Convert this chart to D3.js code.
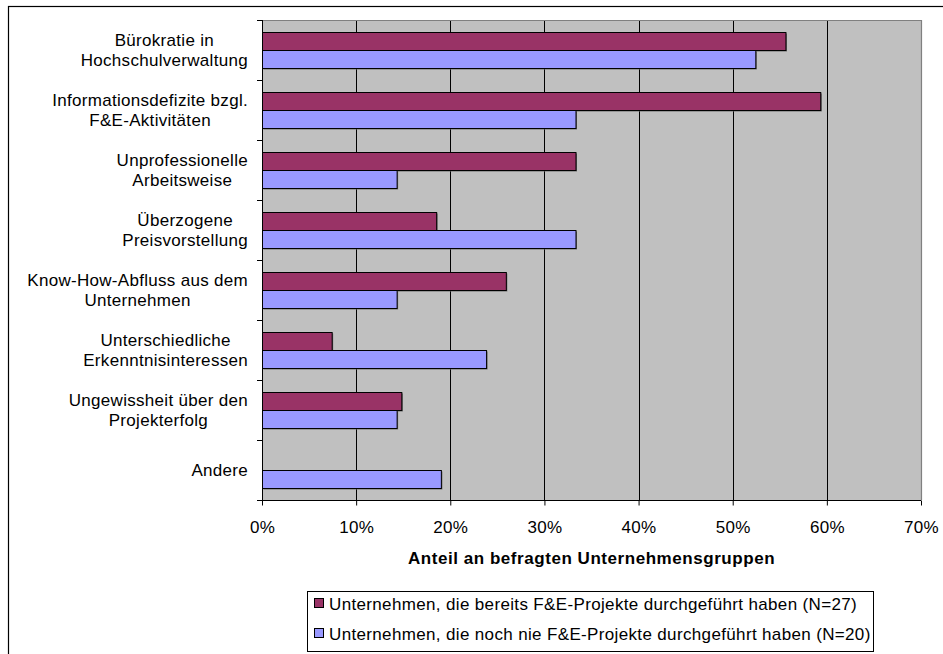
<!DOCTYPE html>
<html>
<head>
<meta charset="utf-8">
<script src="https://cdn.jsdelivr.net/npm/d3@7"></script>
<style>
  body { margin: 0; background: #fff; }
  svg text { font-family: "Liberation Sans", Arial, sans-serif; fill: #000; }
</style>
</head>
<body>
<svg id="chart" width="943" height="654"></svg>
<script>
///////////////////////////////////////////////////////////
// Data

const categoryLines = [
  ["Bürokratie in", "Hochschulverwaltung"],
  ["Informationsdefizite bzgl.", "F&E-Aktivitäten"],
  ["Unprofessionelle", "Arbeitsweise"],
  ["Überzogene", "Preisvorstellung"],
  ["Know-How-Abfluss aus dem", "Unternehmen"],
  ["Unterschiedliche", "Erkenntnisinteressen"],
  ["Ungewissheit über den", "Projekterfolg"],
  ["Andere"]
];
const seriesNames = [
  "Unternehmen, die bereits F&E-Projekte durchgeführt haben (N=27)",
  "Unternehmen, die noch nie F&E-Projekte durchgeführt haben (N=20)"
];
const valuesDone = [55.6, 59.3, 33.3, 18.5, 25.9, 7.4, 14.8, 0];
const valuesNever = [52.4, 33.3, 14.3, 33.3, 14.3, 23.8, 14.3, 19.0];
const seriesColors = ["#993366", "#9999FF"];
const xTicks = [0, 10, 20, 30, 40, 50, 60, 70];
const xTitle = "Anteil an befragten Unternehmensgruppen";

///////////////////////////////////////////////////////////
// Layout

const plot = { left: 262, right: 921, top: 20, bottom: 500 };
const svg = d3.select("#chart");

// outer frame (runs off the right and bottom edge)
svg.append("rect")
  .attr("x", 8.5).attr("y", 6.5)
  .attr("width", 1000).attr("height", 1000)
  .attr("fill", "none").attr("stroke", "#000").attr("stroke-width", 1.2);

const x = d3.scaleLinear().domain([0, 70]).range([plot.left, plot.right]);
const y0 = d3.scaleBand()
  .domain(d3.range(categoryLines.length))
  .range([plot.top, plot.bottom])
  .padding(0);
const y1 = d3.scaleBand()
  .domain([0, 1])
  .range([0, y0.bandwidth()])
  .paddingInner(0)
  .paddingOuter(0.667);

// plot background
svg.append("rect")
  .attr("x", plot.left).attr("y", plot.top)
  .attr("width", plot.right - plot.left).attr("height", plot.bottom - plot.top)
  .attr("fill", "#C0C0C0");

// gridlines
svg.selectAll(".grid")
  .data(xTicks.filter(d => d > 0 && d < 70))
  .enter().append("line")
  .attr("x1", d => Math.round(x(d)) + 0.5).attr("x2", d => Math.round(x(d)) + 0.5)
  .attr("y1", plot.top).attr("y2", plot.bottom)
  .attr("stroke", "#000").attr("stroke-width", 1);

// plot border top/right
svg.append("path")
  .attr("d", `M${plot.left},${plot.top + 0.5}H${plot.right + 0.5}V${plot.bottom}`)
  .attr("fill", "none").attr("stroke", "#808080").attr("stroke-width", 1.2);

///////////////////////////////////////////////////////////
// Bars

const rows = categoryLines.map((c, i) => ({ i, vals: [valuesDone[i], valuesNever[i]] }));
const groups = svg.selectAll(".cat")
  .data(rows)
  .enter().append("g")
  .attr("transform", d => `translate(0,${y0(d.i)})`);

const bars = groups.selectAll(".bar")
  .data(d => d.vals.map((v, s) => ({ v, s })).filter(b => b.v > 0))
  .enter();

// slight shadow like the original
bars.append("rect")
  .attr("x", x(0) + 1.5)
  .attr("y", d => y1(d.s) + 1.5)
  .attr("width", d => x(d.v) - x(0))
  .attr("height", y1.bandwidth())
  .attr("fill", "#6a6a6a");

bars.append("rect")
  .attr("x", x(0) + 0.5)
  .attr("y", d => y1(d.s) + 0.5)
  .attr("width", d => x(d.v) - x(0))
  .attr("height", y1.bandwidth())
  .attr("fill", d => seriesColors[d.s])
  .attr("stroke", "#000").attr("stroke-width", 1);

///////////////////////////////////////////////////////////
// Axes

const yAxisG = svg.append("g");
yAxisG.append("line")
  .attr("x1", plot.left + 0.5).attr("x2", plot.left + 0.5)
  .attr("y1", plot.top).attr("y2", plot.bottom + 5)
  .attr("stroke", "#000");
yAxisG.selectAll(".ytick")
  .data(d3.range(categoryLines.length + 1))
  .enter().append("line")
  .attr("x1", plot.left - 5).attr("x2", plot.left)
  .attr("y1", d => Math.round(plot.top + d * y0.step()) + 0.5)
  .attr("y2", d => Math.round(plot.top + d * y0.step()) + 0.5)
  .attr("stroke", "#000");

const xAxis = d3.axisBottom(x)
  .tickValues(xTicks)
  .tickSize(5)
  .tickFormat(d => d + "%");
const xAxisG = svg.append("g")
  .attr("transform", `translate(0,${plot.bottom + 0.5})`)
  .call(xAxis);
xAxisG.select(".domain").attr("d", `M${plot.left - 5},0H${plot.right}`).attr("stroke", "#000");
xAxisG.selectAll(".tick line").attr("stroke", "#000");
xAxisG.selectAll(".tick text")
  .attr("y", 0).attr("dy", 0)
  .attr("transform", "translate(0,32.5)")
  .style("font-family", '"Liberation Sans", Arial, sans-serif')
  .style("font-size", "17px")
  .style("letter-spacing", "0.3px");

svg.append("text")
  .attr("x", (plot.left + plot.right) / 2)
  .attr("y", 564)
  .attr("text-anchor", "middle")
  .style("font-size", "17px")
  .style("font-weight", "bold")
  .style("letter-spacing", "0.55px")
  .text(xTitle);

// category labels: block right aligned, lines centred in block
const labelRight = 248;
categoryLines.forEach((lines, i) => {
  const g = svg.append("g");
  const texts = lines.map(l => g.append("text")
    .style("font-size", "17px")
    .style("letter-spacing", "0.3px")
    .text(l));
  const w = d3.max(texts, t => t.node().getComputedTextLength());
  const cy = y0(i) + y0.bandwidth() / 2;
  texts.forEach((t, k) => {
    t.attr("x", labelRight - w / 2)
      .attr("text-anchor", "middle")
      .attr("y", cy + 6 + (k - (lines.length - 1) / 2) * 20);
  });
});

///////////////////////////////////////////////////////////
// Legend

const legend = svg.append("g");
legend.append("rect")
  .attr("x", 307.5).attr("y", 591.5)
  .attr("width", 566).attr("height", 60)
  .attr("fill", "#fff").attr("stroke", "#000");

seriesNames.forEach((name, s) => {
  const by = 610 + s * 30;
  legend.append("rect")
    .attr("x", 314.5).attr("y", by - 11.5)
    .attr("width", 9).attr("height", 9)
    .attr("fill", seriesColors[s]).attr("stroke", "#000");
  legend.append("text")
    .attr("x", 329).attr("y", by)
    .style("font-size", "17px")
    .style("letter-spacing", "0.35px")
    .text(name);
});
</script>
</body>
</html>
